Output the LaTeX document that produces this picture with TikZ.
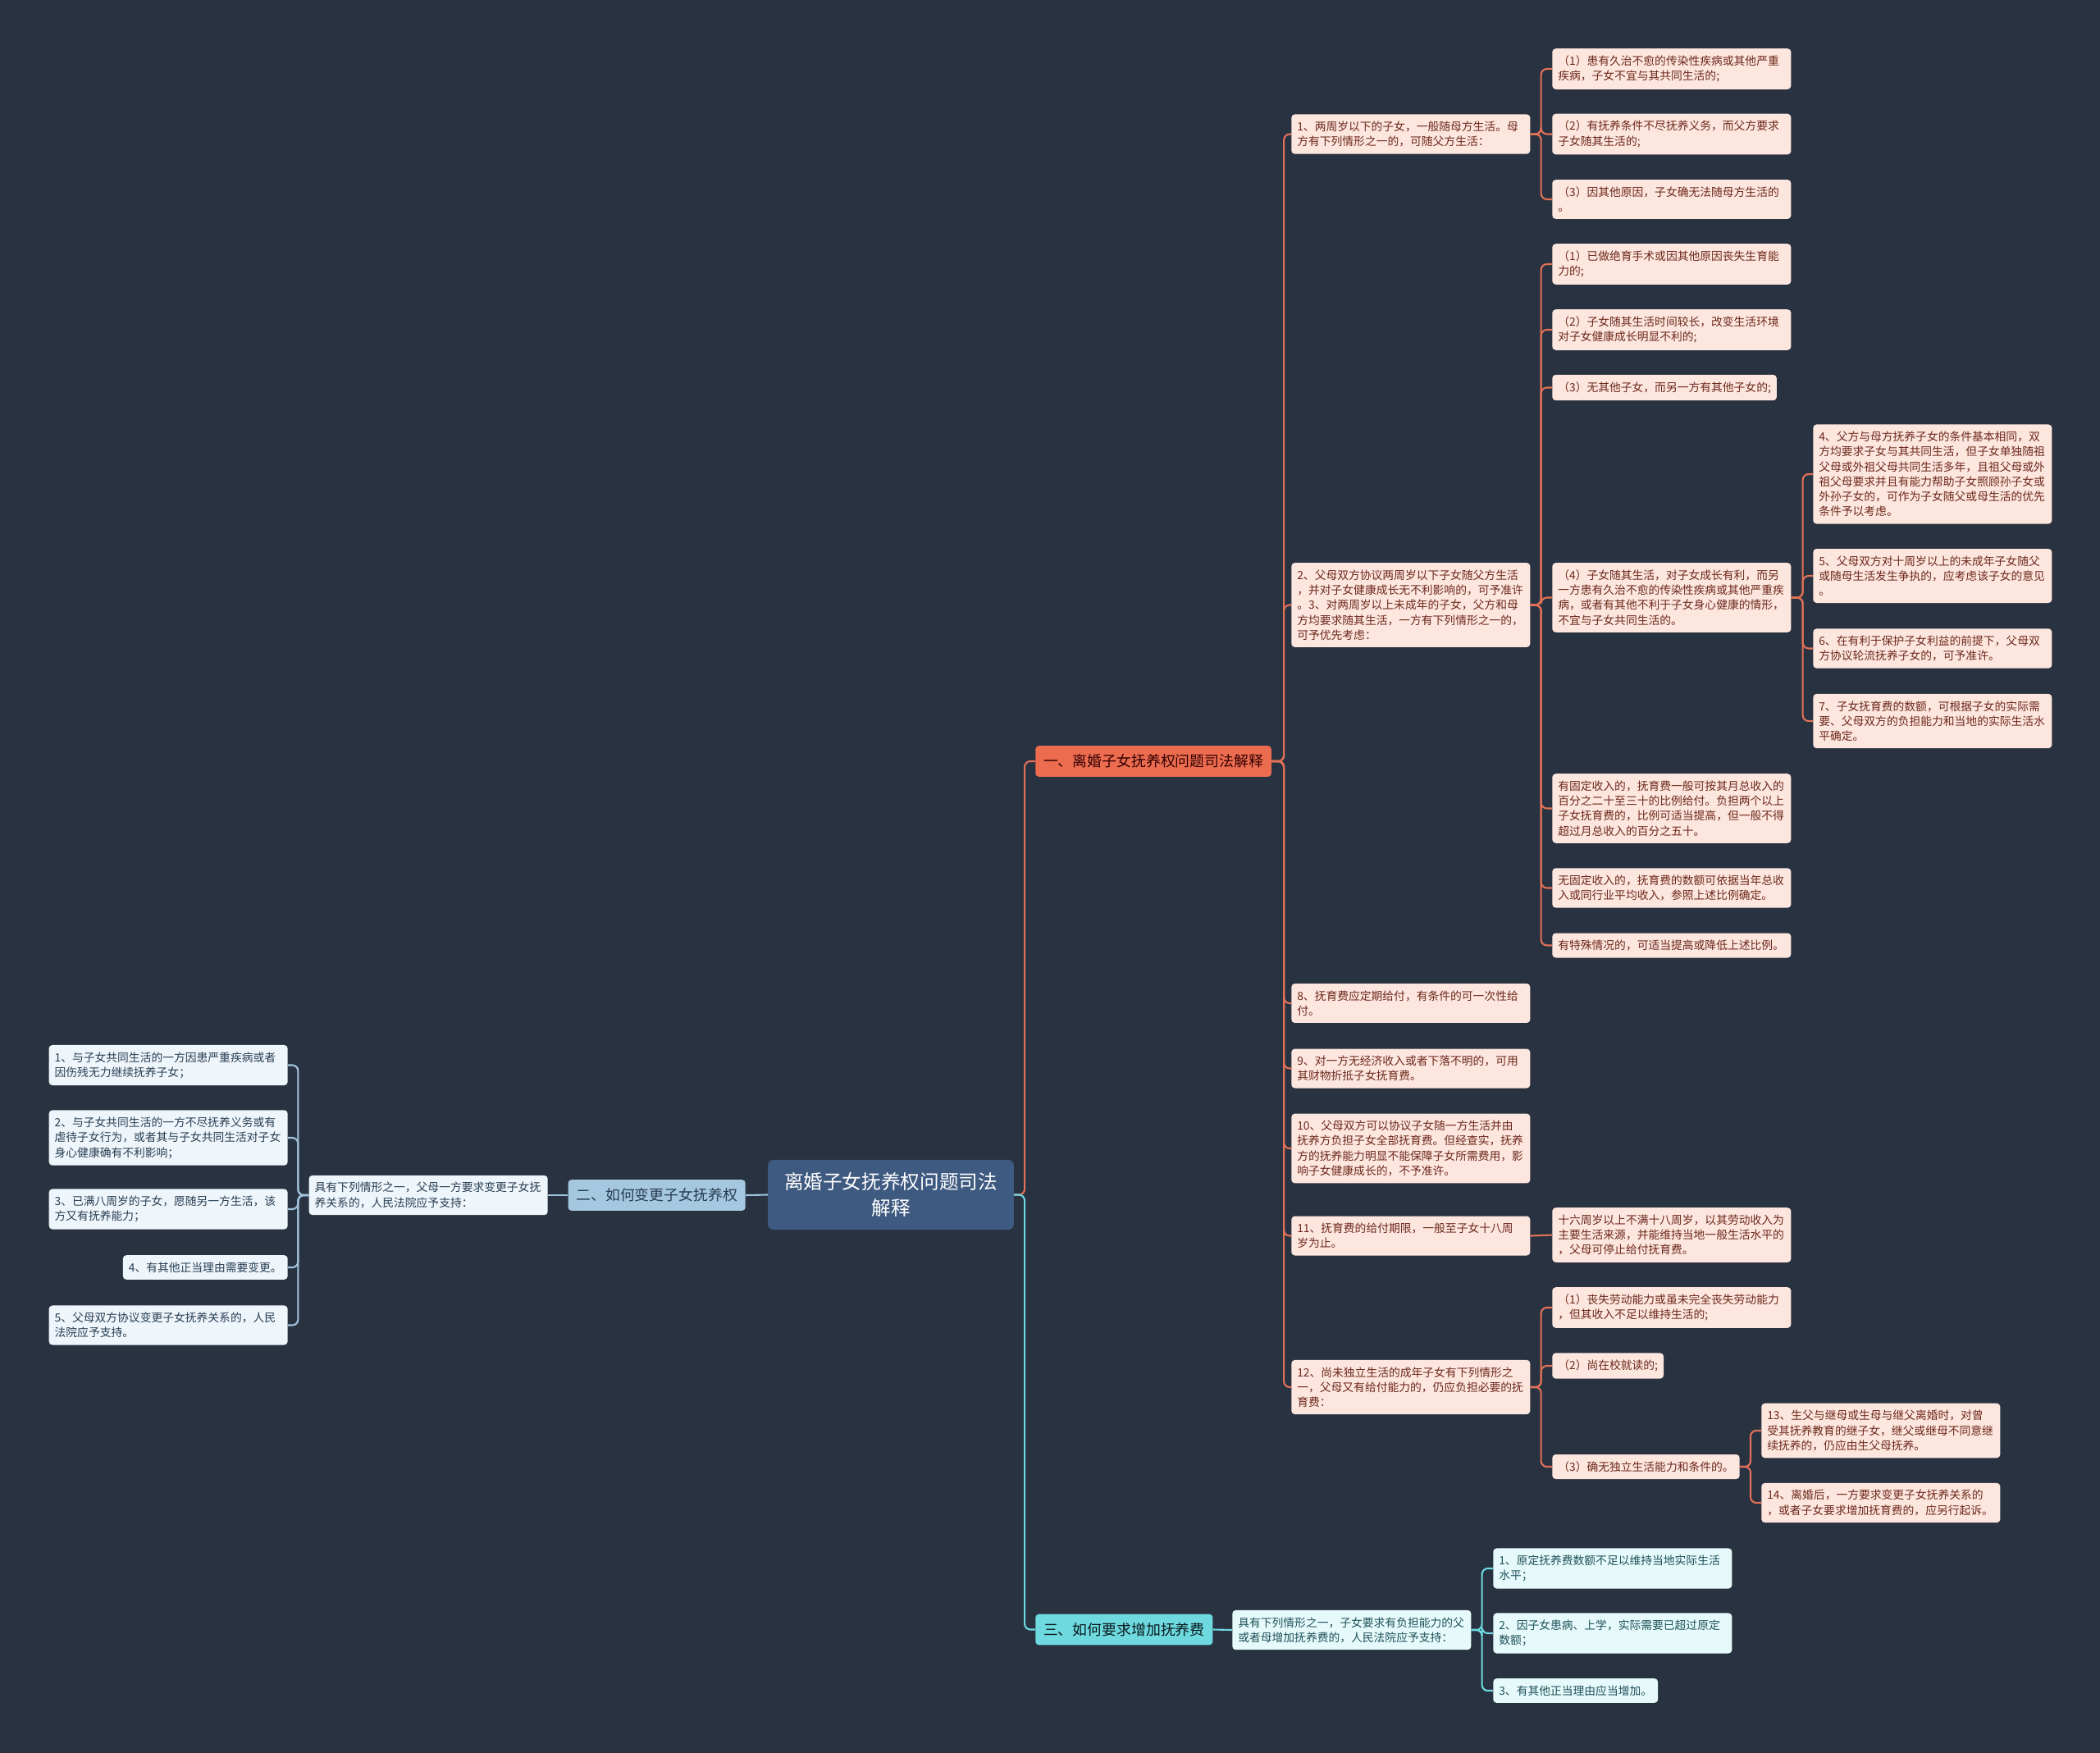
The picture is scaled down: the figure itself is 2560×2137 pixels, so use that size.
\documentclass[tikz,border=0pt]{standalone}
\usepackage{fontspec}
\setmainfont{Noto Sans CJK SC}
\definecolor{bgnavy}{RGB}{41,50,65}
\definecolor{rootfill}{RGB}{62,90,128}
\definecolor{redfill}{RGB}{236,108,80}
\definecolor{redline}{RGB}{226,113,88}
\definecolor{redleaf}{RGB}{253,230,222}
\definecolor{redtext}{RGB}{108,40,28}
\definecolor{bluefill}{RGB}{166,199,224}
\definecolor{blueline}{RGB}{163,196,222}
\definecolor{blueleaf}{RGB}{238,245,251}
\definecolor{bluetext}{RGB}{40,62,82}
\definecolor{cyanfill}{RGB}{110,218,224}
\definecolor{cyanline}{RGB}{110,216,224}
\definecolor{cyanleaf}{RGB}{230,250,251}
\definecolor{cyantext}{RGB}{30,80,88}

\begin{document}
\begin{tikzpicture}[
  x=0.025cm, y=-0.025cm,
  leafbase/.style={rounded corners=3pt, inner xsep=5pt, inner ysep=6pt, align=left,
    font=\fontsize{9.8}{13}\selectfont},
  wide/.style={text width=197pt},
  redbox/.style={leafbase, fill=redleaf, text=redtext, anchor=west},
  bluebox/.style={leafbase, fill=blueleaf, text=bluetext, anchor=east},
  cyanbox/.style={leafbase, fill=cyanleaf, text=cyantext, anchor=west},
  topic/.style={rounded corners=3pt, inner xsep=7pt, inner ysep=7.5pt,
    font=\fontsize{12.7}{15}\selectfont},
  root/.style={rounded corners=4pt, fill=rootfill, text=white, align=center,
    minimum width=213pt, minimum height=60.5pt, font=\fontsize{16.8}{22.5}\selectfont},
  redconn/.style={draw=redline, line width=1.5pt, rounded corners=5pt},
  blueconn/.style={draw=blueline, line width=1.5pt, rounded corners=5pt},
  cyanconn/.style={draw=cyanline, line width=1.5pt, rounded corners=5pt}
]
\fill[bgnavy] (0,0) rectangle (2560,2137);

% root and main topics
\node[root] (center) at (1086,1456.5) {离婚子女抚养权问题司法\\解释};
\node[topic, fill=redfill, text=black!80!red, anchor=west] (one) at (1262,928) {一、离婚子女抚养权问题司法解释};
\node[topic, fill=bluefill, text=bluetext, anchor=east] (two) at (909,1457) {二、如何变更子女抚养权};
\node[topic, fill=cyanfill, text=black!70!cyantext, anchor=west] (three) at (1262,1986.5) {三、如何要求增加抚养费};

% branch one
\node[redbox, wide] (A1) at (1574,163.5) {1、两周岁以下的子女，一般随母方生活。母\\方有下列情形之一的，可随父方生活：};
\node[redbox, wide] (A2) at (1574,737.5) {2、父母双方协议两周岁以下子女随父方生活\\，并对子女健康成长无不利影响的，可予准许\\。3、对两周岁以上未成年的子女，父方和母\\方均要求随其生活，一方有下列情形之一的，\\可予优先考虑：};
\node[redbox, wide] (A3) at (1574,1223) {8、抚育费应定期给付，有条件的可一次性给\\付。};
\node[redbox, wide] (A4) at (1574,1302.5) {9、对一方无经济收入或者下落不明的，可用\\其财物折抵子女抚育费。};
\node[redbox, wide] (A5) at (1574,1400) {10、父母双方可以协议子女随一方生活并由\\抚养方负担子女全部抚育费。但经查实，抚养\\方的抚养能力明显不能保障子女所需费用，影\\响子女健康成长的，不予准许。};
\node[redbox, wide] (A6) at (1574,1506.5) {11、抚育费的给付期限，一般至子女十八周\\岁为止。};
\node[redbox, wide] (A7) at (1574,1691) {12、尚未独立生活的成年子女有下列情形之\\一，父母又有给付能力的，仍应负担必要的抚\\育费：};

\node[redbox, wide] (a1) at (1892,84) {（1）患有久治不愈的传染性疾病或其他严重\\疾病，子女不宜与其共同生活的;};
\node[redbox, wide] (a2) at (1892,163.5) {（2）有抚养条件不尽抚养义务，而父方要求\\子女随其生活的;};
\node[redbox, wide] (a3) at (1892,243) {（3）因其他原因，子女确无法随母方生活的\\。};

\node[redbox, wide] (b1) at (1892,322) {（1）已做绝育手术或因其他原因丧失生育能\\力的;};
\node[redbox, wide] (b2) at (1892,402) {（2）子女随其生活时间较长，改变生活环境\\对子女健康成长明显不利的;};
\node[redbox] (b3) at (1892,472.5) {（3）无其他子女，而另一方有其他子女的;};
\node[redbox, wide] (b4) at (1892,728.5) {（4）子女随其生活，对子女成长有利，而另\\一方患有久治不愈的传染性疾病或其他严重疾\\病，或者有其他不利于子女身心健康的情形，\\不宜与子女共同生活的。};
\node[redbox, wide] (b5) at (1892,985.5) {有固定收入的，抚育费一般可按其月总收入的\\百分之二十至三十的比例给付。负担两个以上\\子女抚育费的，比例可适当提高，但一般不得\\超过月总收入的百分之五十。};
\node[redbox, wide] (b6) at (1892,1082.5) {无固定收入的，抚育费的数额可依据当年总收\\入或同行业平均收入，参照上述比例确定。};
\node[redbox, wide] (b7) at (1892,1152.5) {有特殊情况的，可适当提高或降低上述比例。};

\node[redbox, wide] (c4) at (2210,578) {4、父方与母方抚养子女的条件基本相同，双\\方均要求子女与其共同生活，但子女单独随祖\\父母或外祖父母共同生活多年，且祖父母或外\\祖父母要求并且有能力帮助子女照顾孙子女或\\外孙子女的，可作为子女随父或母生活的优先\\条件予以考虑。};
\node[redbox, wide] (c5) at (2210,702) {5、父母双方对十周岁以上的未成年子女随父\\或随母生活发生争执的，应考虑该子女的意见\\。};
\node[redbox, wide] (c6) at (2210,790.5) {6、在有利于保护子女利益的前提下，父母双\\方协议轮流抚养子女的，可予准许。};
\node[redbox, wide] (c7) at (2210,879) {7、子女抚育费的数额，可根据子女的实际需\\要、父母双方的负担能力和当地的实际生活水\\平确定。};

\node[redbox, wide] (f1) at (1892,1505.5) {十六周岁以上不满十八周岁，以其劳动收入为\\主要生活来源，并能维持当地一般生活水平的\\，父母可停止给付抚育费。};

\node[redbox, wide] (d1) at (1892,1594) {（1）丧失劳动能力或虽未完全丧失劳动能力\\，但其收入不足以维持生活的;};
\node[redbox] (d2) at (1892,1665) {（2）尚在校就读的;};
\node[redbox] (d3) at (1892,1788) {（3）确无独立生活能力和条件的。};
\node[redbox, wide] (e13) at (2147,1744) {13、生父与继母或生母与继父离婚时，对曾\\受其抚养教育的继子女，继父或继母不同意继\\续抚养的，仍应由生父母抚养。};
\node[redbox, wide] (e14) at (2147,1832) {14、离婚后，一方要求变更子女抚养关系的\\，或者子女要求增加抚育费的，应另行起诉。};

% branch two
\node[bluebox, wide] (g) at (668,1457) {具有下列情形之一，父母一方要求变更子女抚\\养关系的，人民法院应予支持：};
\node[bluebox, wide] (L1) at (351,1298.5) {1、与子女共同生活的一方因患严重疾病或者\\因伤残无力继续抚养子女；};
\node[bluebox, wide] (L2) at (351,1387) {2、与子女共同生活的一方不尽抚养义务或有\\虐待子女行为，或者其与子女共同生活对子女\\身心健康确有不利影响；};
\node[bluebox, wide] (L3) at (351,1474) {3、已满八周岁的子女，愿随另一方生活，该\\方又有抚养能力；};
\node[bluebox] (L4) at (351,1545) {4、有其他正当理由需要变更。};
\node[bluebox, wide] (L5) at (351,1615.5) {5、父母双方协议变更子女抚养关系的，人民\\法院应予支持。};

% branch three
\node[cyanbox, wide] (h) at (1502,1987) {具有下列情形之一，子女要求有负担能力的父\\或者母增加抚养费的，人民法院应予支持：};
\node[cyanbox, wide] (S1) at (1820,1912) {1、原定抚养费数额不足以维持当地实际生活\\水平；};
\node[cyanbox, wide] (S2) at (1820,1991) {2、因子女患病、上学，实际需要已超过原定\\数额；};
\node[cyanbox] (S3) at (1820,2061) {3、有其他正当理由应当增加。};

% connectors
\draw[redconn] (center.east) -- ++(13,0) |- (one.west);
\draw[cyanconn] (center.east) -- ++(13,0) |- (three.west);
\draw[blueconn] (center.west) -- (two.east);
\draw[blueconn] (two.west) -- (g.east);
\foreach \c in {L1,L2,L3,L4,L5}
  \draw[blueconn] (g.west) -- ++(-13,0) |- (\c.east);
\foreach \c in {A1,A2,A3,A4,A5,A6,A7}
  \draw[redconn] (one.east) -- ++(15,0) |- (\c.west);
\foreach \c in {a1,a2,a3}
  \draw[redconn] (A1.east) -- ++(13,0) |- (\c.west);
\foreach \c in {b1,b2,b3,b4,b5,b6,b7}
  \draw[redconn] (A2.east) -- ++(13,0) |- (\c.west);
\foreach \c in {c4,c5,c6,c7}
  \draw[redconn] (b4.east) -- ++(14,0) |- (\c.west);
\draw[redconn] (A6.east) -- (f1.west);
\foreach \c in {d1,d2,d3}
  \draw[redconn] (A7.east) -- ++(13,0) |- (\c.west);
\foreach \c in {e13,e14}
  \draw[redconn] (d3.east) -- ++(13,0) |- (\c.west);
\draw[cyanconn] (three.east) -- (h.west);
\foreach \c in {S1,S2,S3}
  \draw[cyanconn] (h.east) -- ++(13,0) |- (\c.west);
\end{tikzpicture}
\end{document}
